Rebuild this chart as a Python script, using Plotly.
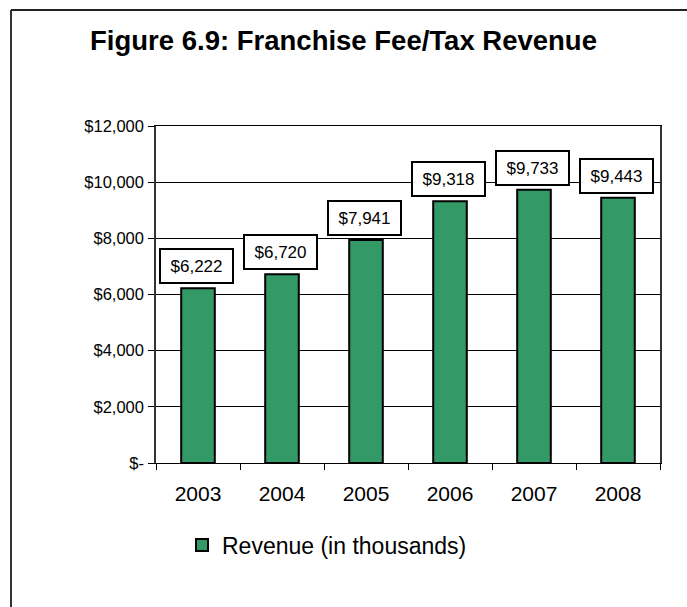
import plotly.graph_objects as go

years = ["2003", "2004", "2005", "2006", "2007", "2008"]
revenue = [6222, 6720, 7941, 9318, 9733, 9443]
label_text = ["$6,222", "$6,720", "$7,941", "$9,318", "$9,733", "$9,443"]
y_tick_vals = [0, 2000, 4000, 6000, 8000, 10000, 12000]
y_tick_text = ["$-", "$2,000", "$4,000", "$6,000", "$8,000", "$10,000", "$12,000"]

W, H = 687, 607
L, R, T, B = 156, 27, 126, 144
pw, ph = W - L - R, H - T - B


def px_x(x):
    return (x - L) / pw


def px_y(y):
    return (H - B - y) / ph


fig = go.Figure()
fig.add_trace(go.Bar(
    x=years, y=revenue, name="Revenue (in thousands)",
    marker=dict(color="#339966", line=dict(color="black", width=2)),
    width=0.4,
))

for i, (v, t) in enumerate(zip(revenue, label_text)):
    fig.add_annotation(
        x=i, y=v, text=t, showarrow=False, yanchor="bottom", yshift=4, xshift=-2,
        bgcolor="white", bordercolor="black", borderwidth=2, borderpad=1,
        width=69, height=30, font=dict(size=17, color="black", family="Arial, Liberation Sans"),
    )

fig.update_layout(
    width=W, height=H,
    margin=dict(l=L, r=R, t=T, b=B),
    paper_bgcolor="white", plot_bgcolor="white",
    font=dict(family="Arial, Liberation Sans", color="black"),
    title=dict(text="<b>Figure 6.9: Franchise Fee/Tax Revenue</b>", x=0.5, xanchor="center",
               y=1 - 40 / H, yanchor="middle", yref="container",
               font=dict(size=27.5, color="black")),
    showlegend=True,
    legend=dict(orientation="h", x=px_x(182), xanchor="left", y=px_y(545), yanchor="middle",
                font=dict(size=23, color="black"), bgcolor="rgba(0,0,0,0)"),
    shapes=[
        dict(type="line", xref="paper", yref="paper", x0=px_x(11), x1=px_x(700), y0=px_y(10), y1=px_y(10),
             line=dict(color="#222222", width=2)),
        dict(type="line", xref="paper", yref="paper", x0=px_x(11), x1=px_x(11), y0=px_y(10), y1=px_y(620),
             line=dict(color="#333333", width=2)),
    ],
)

fig.update_xaxes(
    type="category", range=[-0.5, 5.5], showline=True, linecolor="black", linewidth=1, mirror=True,
    ticks="outside", ticklen=6, tickcolor="black", tickson="boundaries", ticklabelstandoff=12,
    tickfont=dict(size=21, color="black"), showgrid=False, tickangle=0,
)
fig.update_yaxes(
    range=[0, 12000], tickvals=y_tick_vals, ticktext=y_tick_text,
    showline=True, linecolor="#333333", linewidth=1.5, mirror=True,
    ticks="outside", ticklen=6, tickcolor="black", ticklabelstandoff=1,
    showgrid=True, gridcolor="black", gridwidth=1, zeroline=False,
    tickfont=dict(size=16.5, color="black"),
)

fig.write_html("out.html", config={"displayModeBar": False},
               post_script="document.body.style.margin='0';")
